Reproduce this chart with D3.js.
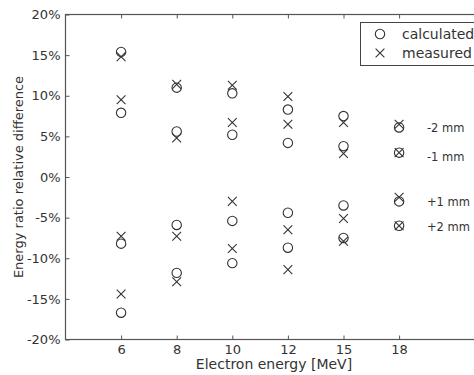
<!DOCTYPE html>
<html>
<head>
<meta charset="utf-8">
<script src="https://cdn.jsdelivr.net/npm/d3@7"></script>
<style>
  body { margin: 0; background: #fff; }
  svg { display: block; font-family: "DejaVu Sans", sans-serif; }
</style>
</head>
<body>
<svg id="chart" width="474" height="375"></svg>
<script>
const energies = ['6', '8', '10', '12', '15', '18'];
const yTicks = [-20, -15, -10, -5, 0, 5, 10, 15, 20];
const shifts = ['-2 mm', '-1 mm', '+1 mm', '+2 mm'];

// calculated (circles), one array per shift, in %
const calcM2 = [15.4, 11.0, 10.3, 8.3, 7.5, 6.1];
const calcM1 = [7.9, 5.6, 5.2, 4.2, 3.8, 3.0];
const calcP1 = [-8.2, -5.9, -5.4, -4.4, -3.5, -3.0];
const calcP2 = [-16.7, -11.8, -10.6, -8.7, -7.5, -6.0];

// measured (crosses)
const measM2 = [14.8, 11.4, 11.3, 9.9, 6.7, 6.5];
const measM1 = [9.5, 4.8, 6.7, 6.5, 2.9, 3.0];
const measP1 = [-7.3, -7.3, -3.0, -6.5, -5.1, -2.5];
const measP2 = [-14.4, -12.9, -8.8, -11.4, -7.9, -6.0];

const calculated = [calcM2, calcM1, calcP1, calcP2];
const measured = [measM2, measM1, measP1, measP2];

const ink = '#333';
const svg = d3.select('#chart');
const margin = { top: 14.5, left: 65.5, bottom: 35.5 };
const height = 375 - margin.top - margin.bottom;

// categories sit on an even index grid; the right end runs past the window
const x = d3.scaleLinear().domain([-1, 6.5]).range([margin.left, margin.left + 55.6 * 7.5]);
const y = d3.scaleLinear().domain([-20, 20]).range([margin.top + height, margin.top]);

const g = svg.append('g');

// frame
g.append('rect')
  .attr('x', x(-1)).attr('y', y(20))
  .attr('width', x(6.5) - x(-1)).attr('height', y(-20) - y(20))
  .attr('fill', 'none').attr('stroke', '#555').attr('stroke-width', 1.2);

// x axis (bottom + top, inward ticks)
const xIdx = d3.range(energies.length);
const xb = g.append('g')
  .attr('transform', 'translate(0,' + y(-20) + ')')
  .call(d3.axisBottom(x).tickValues(xIdx).tickFormat((i) => energies[i]).tickSizeInner(-4).tickSizeOuter(0).tickPadding(5));
const xt = g.append('g')
  .attr('transform', 'translate(0,' + y(20) + ')')
  .call(d3.axisTop(x).tickValues(xIdx).tickFormat('').tickSizeInner(-4).tickSizeOuter(0));

// y axis
const yl = g.append('g')
  .attr('transform', 'translate(' + x(-1) + ',0)')
  .call(d3.axisLeft(y).tickValues(yTicks).tickFormat((d) => d + '%').tickSizeInner(-4).tickSizeOuter(0).tickPadding(5));

[xb, xt, yl].forEach((a) => {
  a.select('.domain').remove();
  a.selectAll('.tick line').attr('stroke', '#555');
  a.selectAll('.tick text').attr('fill', ink).style('font-size', '13px').style('font-family', 'DejaVu Sans');
});

// axis titles
svg.append('text')
  .attr('x', 274).attr('y', 369)
  .attr('text-anchor', 'middle').attr('fill', ink)
  .style('font-size', '14px')
  .text('Electron energy [MeV]');

svg.append('text')
  .attr('transform', 'translate(23,' + y(0) + ') rotate(-90)')
  .attr('text-anchor', 'middle').attr('fill', ink)
  .style('font-size', '13px')
  .text('Energy ratio relative difference');

const r = 4.7;
const s = 4.4;

function cross(sel, cx, cy) {
  sel.append('path')
    .attr('d', 'M' + (cx - s) + ',' + (cy - s) + 'L' + (cx + s) + ',' + (cy + s) +
               'M' + (cx - s) + ',' + (cy + s) + 'L' + (cx + s) + ',' + (cy - s))
    .attr('stroke', ink).attr('stroke-width', 1.1).attr('fill', 'none');
}

const marks = g.append('g');
calculated.forEach((series) => {
  marks.selectAll(null)
    .data(series)
    .enter()
    .append('circle')
    .attr('cx', (d, i) => x(i))
    .attr('cy', (d) => y(d))
    .attr('r', r)
    .attr('fill', 'none').attr('stroke', ink).attr('stroke-width', 1.1);
});
measured.forEach((series) => {
  series.forEach((d, i) => cross(marks, x(i), y(d)));
});

// shift labels next to the last category
const labelY = [6.0, 2.5, -3.1, -6.1];
shifts.forEach((lab, k) => {
  svg.append('text')
    .attr('x', x(5.5)).attr('y', y(labelY[k]))
    .attr('dy', '0.35em').attr('fill', ink)
    .style('font-size', '11.5px')
    .text(lab);
});

// legend
const lg = svg.append('g');
lg.append('rect')
  .attr('x', 360.5).attr('y', 22.5).attr('width', 130).attr('height', 43)
  .attr('fill', '#fff').attr('stroke', '#444').attr('stroke-width', 1);
lg.append('circle')
  .attr('cx', 380).attr('cy', 34).attr('r', r)
  .attr('fill', 'none').attr('stroke', ink).attr('stroke-width', 1.1);
cross(lg, 380, 53);
lg.append('text').attr('x', 402).attr('y', 34).attr('dy', '0.35em')
  .attr('fill', ink).style('font-size', '14px').text('calculated');
lg.append('text').attr('x', 402).attr('y', 53).attr('dy', '0.35em')
  .attr('fill', ink).style('font-size', '14px').text('measured');
</script>
</body>
</html>
